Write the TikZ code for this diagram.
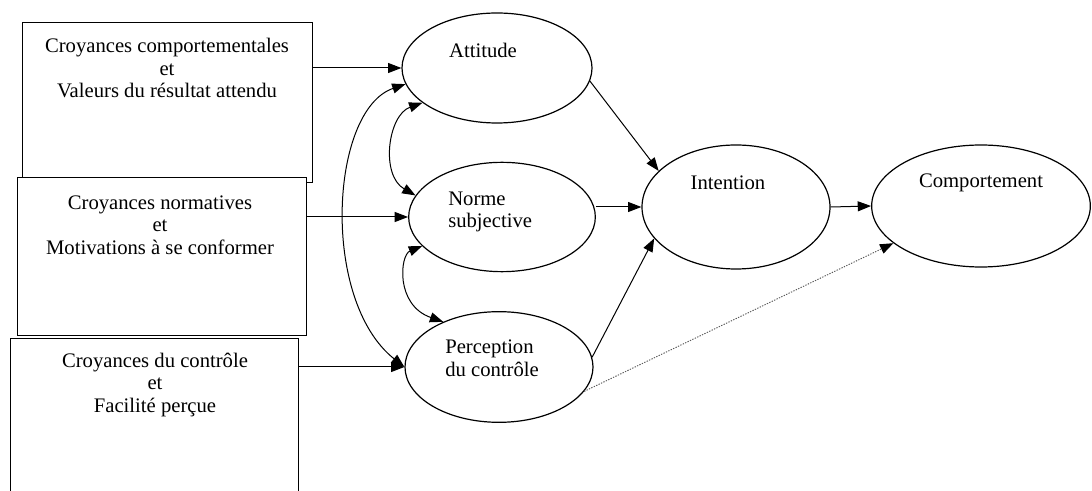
\documentclass[tikz,border=0pt]{standalone}
\usepackage{fontspec}
\setmainfont{Liberation Serif}
\usetikzlibrary{shapes.geometric,arrows.meta}

\tikzset{
    belief/.style={draw, fill=white, line width=0.9pt, anchor=north west, inner sep=0pt},
    bubble/.style={draw, ellipse, line width=0.9pt, inner sep=0pt},
    txt/.style={align=center, inner sep=0pt, font=\fontsize{15.5}{17}\selectfont},
    arr/.style={line width=0.75pt, -{Triangle[length=10pt,width=7.5pt]}},
    dblarr/.style={line width=0.75pt, {Triangle[length=10pt,width=7.5pt]}-{Triangle[length=10pt,width=7.5pt]}},
}

\begin{document}
\begin{tikzpicture}[x=0.75pt,y=0.75pt]
            \useasboundingbox (0,0) rectangle (1092,-491);
            \clip (0,0) rectangle (1092,-491);

            % boxes of beliefs
            \node[belief, minimum width=217.5pt, minimum height=120pt] (box1) at (22,-22) {};
            \node[belief, minimum width=216.75pt, minimum height=118.5pt] (box2) at (17,-177) {};
            \node[belief, minimum width=216pt, minimum height=130pt] (box3) at (10,-338) {};

            \node[txt] (box1-txt) at (167,-68) {Croyances comportementales\\et\\Valeurs du résultat attendu};
            \node[txt] (box2-txt) at (160,-225) {Croyances normatives\\et\\Motivations à se conformer};
            \node[txt] (box3-txt) at (155,-385) {Croyances du contrôle\\et\\Facilité perçue};

            % ellipses
            \node[bubble, minimum width=142.5pt, minimum height=82.5pt] (att) at (497,-68) {};
            \node[bubble, minimum width=140pt, minimum height=82pt] (norme) at (502,-217) {};
            \node[bubble, minimum width=141pt, minimum height=83pt] (perc) at (499,-367) {};
            \node[bubble, minimum width=141pt, minimum height=93pt] (inten) at (736,-207) {};
            \node[bubble, minimum width=164pt, minimum height=91.5pt] (comp) at (981,-206) {};

            \node[txt] (att-txt) at (483,-50) {Attitude};
            \node[txt, align=left, anchor=west] (norme-txt) at (448,-212) {Norme\\subjective};
            \node[txt, align=left, anchor=west] (perc-txt) at (445,-358) {Perception\\du contrôle};
            \node[txt] (inten-txt) at (728,-183) {Intention};
            \node[txt] (comp-txt) at (981,-183) {Comportement};

            \foreach \b/\e in {box1/att, box2/norme, box3/perc}{
                \draw[arr] (\b.east |- \e.west) -- (\e.west);
            }

            % correlations
            \draw[dblarr] (att.190) .. controls (330,-110) and (320,-300) .. (perc.180);
            \draw[dblarr] (att.205) .. controls (388,-115) and (380,-175) .. (norme.166);
            \draw[dblarr] (norme.200) .. controls (400,-255) and (395,-305) .. (perc.141);

            \draw[arr] (att.-8) -- (inten.155);
            \draw[arr] (norme.east |- inten.west) -- (inten.west);
            \draw[arr] (perc.6) -- (inten.201);
            \draw[arr] (inten.east) -- (comp.west);
            \draw[line width=0.7pt, black!65, dash pattern=on 1pt off 1pt, -{Triangle[length=10pt,width=7.5pt,color=black]}] (perc.-16) -- (comp.203);

        \end{tikzpicture}
\end{document}
